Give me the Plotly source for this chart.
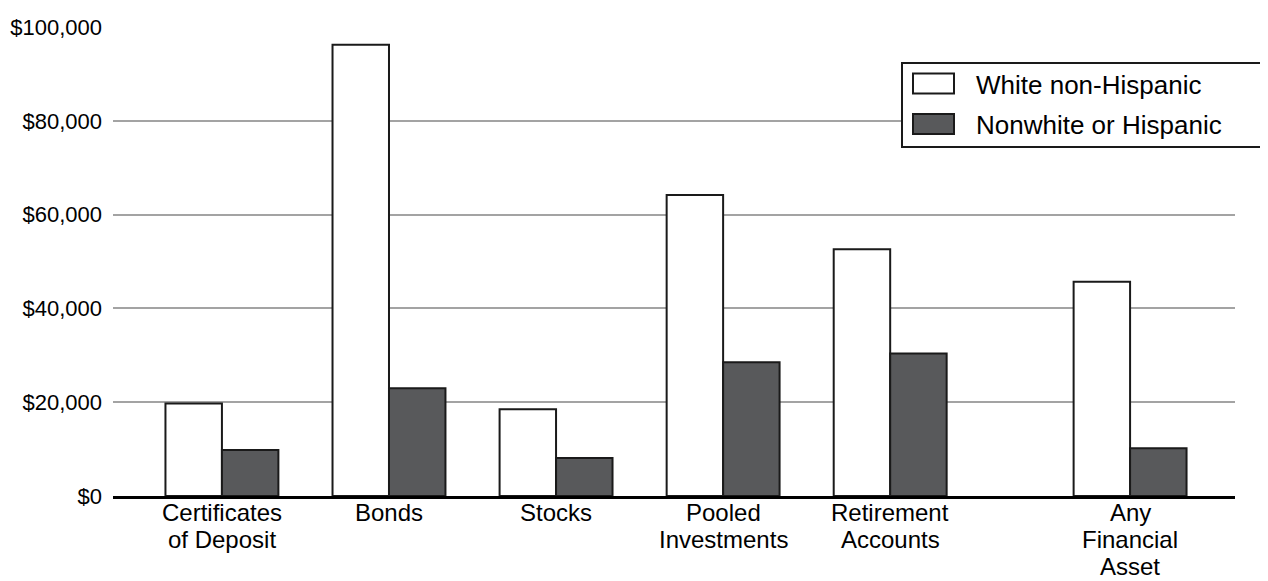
import plotly.graph_objects as go

# ---- data ----
categories = ["Certificates<br>of Deposit", "Bonds", "Stocks", "Pooled<br>Investments",
              "Retirement<br>Accounts", "Any<br>Financial<br>Asset"]
white_non_hispanic = [19700, 96200, 18500, 64200, 52600, 45700]
nonwhite_or_hispanic = [9800, 23000, 8100, 28500, 30400, 10200]
series_names = ["White non-Hispanic", "Nonwhite or Hispanic"]
y_ticks = [0, 20000, 40000, 60000, 80000, 100000]

# ---- layout constants (absolute page pixels; page body has an 8px margin) ----
PAGE_W, PAGE_H = 1268, 581
OFF = 8
PLOT_L, PLOT_R, PLOT_T, PLOT_B = 113, 1235, 27, 496
GAP_BEFORE_LAST = 0.436           # extra spacing before the summary category
FONT = "Liberation Sans"
XTICK_SIZE = 24
YTICK_SIZE = 22
LEG_SIZE = 26
LINE_STEP = 27                    # leading of the category labels
FIRST_LINE_CENTER = 512.5
DARK = "#58595b"
EDGE = "#1a1a1a"

W, H = PAGE_W - OFF, PAGE_H - OFF
ML, MT = PLOT_L - OFF, PLOT_T - OFF
MR, MB = PAGE_W - PLOT_R, PAGE_H - PLOT_B

positions = list(range(len(categories)))
positions[-1] += GAP_BEFORE_LAST

fig = go.Figure()
fig.add_trace(go.Bar(x=positions, y=white_non_hispanic, name=series_names[0],
                     marker=dict(color="#ffffff", line=dict(color=EDGE, width=2)),
                     showlegend=False))
fig.add_trace(go.Bar(x=positions, y=nonwhite_or_hispanic, name=series_names[1],
                     marker=dict(color=DARK, line=dict(color=EDGE, width=2)),
                     showlegend=False))

pw = PLOT_R - PLOT_L
ph = PLOT_B - PLOT_T
def px_x(p):
    return (p - PLOT_L) / pw
def px_y(p):
    return (PLOT_B - p) / ph

# category labels, one text per line with the reference's tight leading
for pos, label in zip(positions, categories):
    for i, line in enumerate(label.split("<br>")):
        fig.add_annotation(xref="x", yref="paper", x=pos,
                           y=px_y(FIRST_LINE_CENTER + i * LINE_STEP),
                           text=line, showarrow=False, xanchor="center", yanchor="middle",
                           borderpad=0,
                           font=dict(family=FONT, size=XTICK_SIZE, color="#000"))

# custom legend (box runs off the right edge as in the reference)
fig.add_shape(type="rect", xref="paper", yref="paper",
              x0=px_x(902), x1=px_x(1300), y0=px_y(147), y1=px_y(63),
              line=dict(color=EDGE, width=2), fillcolor="white", layer="above")
swatch_fill = ["#ffffff", DARK]
row_centers = [83.5, 124]
for name, fill, cy in zip(series_names, swatch_fill, row_centers):
    fig.add_shape(type="rect", xref="paper", yref="paper",
                  x0=px_x(913), x1=px_x(954), y0=px_y(cy + 10), y1=px_y(cy - 10),
                  line=dict(color=EDGE, width=2), fillcolor=fill, layer="above")
    fig.add_annotation(xref="paper", yref="paper", x=px_x(975), y=px_y(cy + 1),
                       text=name, showarrow=False, xanchor="left", yanchor="middle",
                       borderpad=0,
                       font=dict(family=FONT, size=LEG_SIZE, color="#000"))

fig.update_layout(
    width=W, height=H,
    margin=dict(l=ML, r=MR, t=MT, b=MB, autoexpand=False),
    paper_bgcolor="white", plot_bgcolor="white",
    barmode="group", bargap=0.324, bargroupgap=0,
    font=dict(family=FONT, size=YTICK_SIZE, color="#000"),
    xaxis=dict(tickvals=positions, showticklabels=False,
               range=[-0.652, 6.064], showgrid=False, zeroline=False,
               showline=True, linecolor="#000", linewidth=2.5, ticks=""),
    yaxis=dict(range=[0, 100000], tickvals=y_ticks, tickformat="$,.0f",
               showgrid=True, gridcolor="#a3a3a3", gridwidth=1.5,
               zeroline=False, showline=False, ticks="", ticklabelstandoff=10,
               tickfont=dict(family=FONT, size=YTICK_SIZE, color="#000")),
)

fig.write_html("out.html")
